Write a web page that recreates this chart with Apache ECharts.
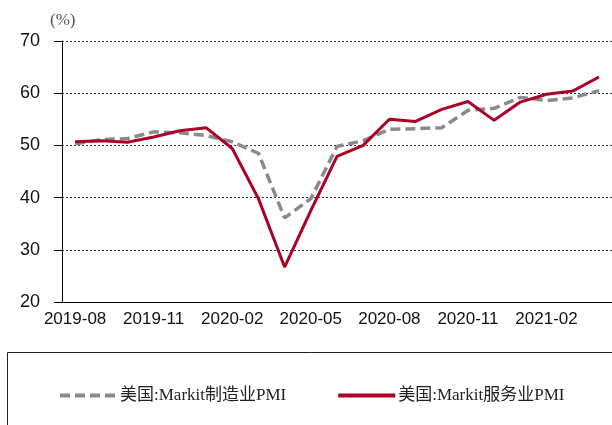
<!DOCTYPE html>
<html>
<head>
<meta charset="utf-8">
<script src="https://cdn.jsdelivr.net/npm/echarts@6/dist/echarts.min.js"></script>
<style>
	html, body { margin: 0; padding: 0; background: #fff; }
	#main { width: 612px; height: 425px; }
</style>
</head>
<body>
<div id="main"></div>
<script type="text/javascript">
	// 月份
	var months = ['2019-08', '2019-09', '2019-10', '2019-11', '2019-12', '2020-01', '2020-02',
		'2020-03', '2020-04', '2020-05', '2020-06', '2020-07', '2020-08', '2020-09',
		'2020-10', '2020-11', '2020-12', '2021-01', '2021-02', '2021-03', '2021-04'];
	// 美国:Markit制造业PMI
	var mfgPmi = [50.3, 51.1, 51.3, 52.6, 52.4, 51.9, 50.7, 48.5, 36.1, 39.8, 49.8,
		50.9, 53.1, 53.2, 53.4, 56.7, 57.1, 59.2, 58.6, 59.1, 60.5];
	// 美国:Markit服务业PMI
	var svcPmi = [50.7, 50.9, 50.6, 51.6, 52.8, 53.4, 49.4, 39.8, 26.7, 37.5, 47.9,
		50.0, 55.0, 54.6, 56.9, 58.4, 54.8, 58.3, 59.8, 60.4, 63.1];
	var seriesNames = ['美国:Markit制造业PMI', '美国:Markit服务业PMI'];
	var yTicks = { min: 20, max: 70, step: 10 };

	var serifFont = '"Liberation Serif", "Noto Sans CJK SC", serif';
	var sansFont = '"Liberation Sans", Arial, sans-serif';

	var chart = echarts.init(document.getElementById('main'));
	chart.setOption({
		animation: false,
		grid: { left: 62, right: 0, top: 41, bottom: 123, containLabel: false },
		graphic: [
			{ // 图例外框
				type: 'rect',
				shape: { x: 7.5, y: 352.5, width: 700, height: 120 },
				style: { fill: 'none', stroke: '#222', lineWidth: 1 },
				silent: true
			},
			{
				type: 'text', left: 50, top: 12,
				style: { text: '(%)', font: '17px ' + serifFont, fill: '#555' }
			}
		],
		legend: {
			data: seriesNames,
			left: 53, top: 382,
			itemWidth: 57, itemHeight: 16, itemGap: 50,
			itemStyle: { opacity: 0 },
			lineStyle: { width: 4 },
			textStyle: { fontFamily: serifFont, fontSize: 17, color: '#222', padding: [0, 0, 0, -2] }
		},
		xAxis: {
			type: 'category',
			data: months,
			boundaryGap: true,
			axisLine: { lineStyle: { color: '#000', width: 1 } },
			axisTick: { interval: 2, length: 7, inside: false, lineStyle: { color: '#000' } },
			axisLabel: { interval: 2, margin: 9, fontFamily: sansFont, fontSize: 17, color: '#111' },
			splitLine: { show: false }
		},
		yAxis: {
			type: 'value',
			min: yTicks.min, max: yTicks.max, interval: yTicks.step,
			axisLine: { show: true, lineStyle: { color: '#000', width: 1 } },
			axisTick: { show: true, length: 8, lineStyle: { color: '#000' } },
			axisLabel: { margin: 22, fontFamily: sansFont, fontSize: 18, color: '#111' },
			splitLine: { show: true, lineStyle: { color: '#333', width: 1, type: [2, 2] } }
		},
		series: [
			{
				name: seriesNames[0],
				type: 'line',
				data: mfgPmi,
				symbol: 'none',
				lineStyle: { color: '#8a8a8a', width: 3.5, type: [10, 5] },
				itemStyle: { color: '#8a8a8a' },
				z: 2
			},
			{
				name: seriesNames[1],
				type: 'line',
				data: svcPmi,
				symbol: 'none',
				lineStyle: { color: '#ad0026', width: 3 },
				itemStyle: { color: '#ad0026' },
				z: 3
			}
		]
	});
</script>
</body>
</html>
